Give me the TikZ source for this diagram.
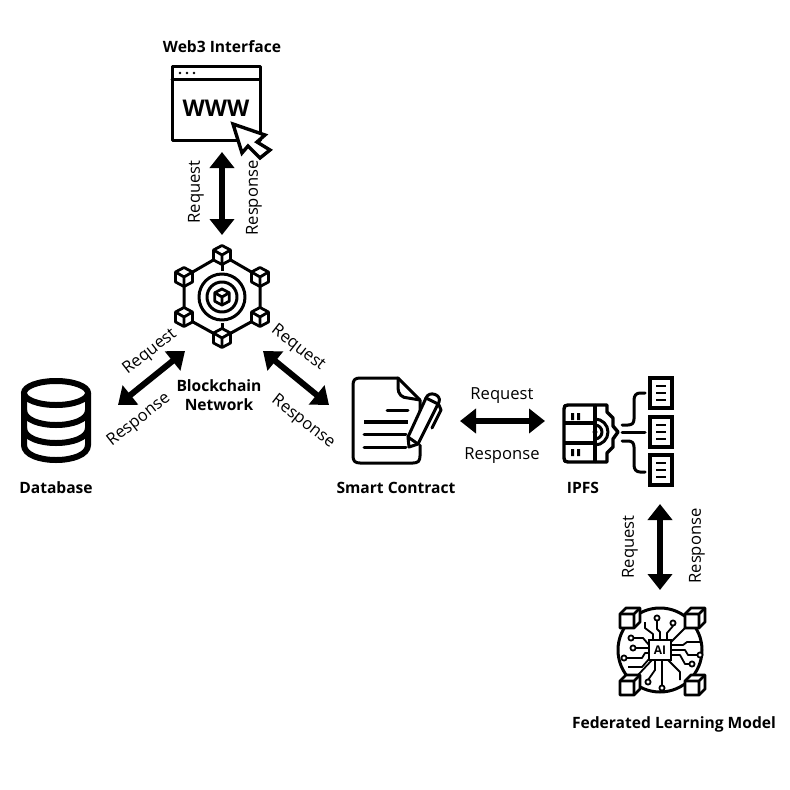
\documentclass[tikz,border=0pt]{standalone}
\usepackage{fontspec}
\setmainfont{Open Sans}
\usepackage{tikz}
\usetikzlibrary{arrows.meta}

\tikzset{
  title/.style={font=\fontsize{15.6}{18.5}\selectfont\bfseries, align=center},
  tag/.style={font=\fontsize{16.6}{18}\selectfont},
  biarrow/.style={line width=6pt, {Triangle[length=16pt,width=24pt]}-{Triangle[length=16pt,width=24pt]}},
  ink/.style={line width=3pt, line join=round, line cap=round},
  blockcube/.pic={
    \draw [line width=2.8pt, line join=round, fill=white] (0,-9.5) -- (8.5,-5) -- (8.5,5) -- (0,9.5) -- (-8.5,5) -- (-8.5,-5) -- cycle;
    \draw [line width=2.8pt, line join=round] (-8.5,-5) -- (0,0) -- (8.5,-5) (0,0) -- (0,9.5);
  },
  boxcube/.pic={
    \draw [line width=2.8pt, line join=round, fill=white] (-10,-4) -- (-4,-10) -- (10,-10) -- (10,4) -- (4,10) -- (-10,10) -- cycle;
    \draw [line width=2.8pt, line join=round] (-10,-4) -- (4,-4) -- (10,-10) (4,-4) -- (4,10);
  }
}

\begin{document}
\begin{tikzpicture}[x=1pt,y=-1pt]
    \useasboundingbox [fill=white] (0,0) rectangle (790,790);

    % Web3 window
    \node [title] (webtitle) at (222,47) {Web3 Interface};
    \draw [ink] (172,66) rectangle (260,140);
    \draw [ink] (172,79) -- (260,79);
    \foreach \dotx in {180,187,194}
        \fill (\dotx,73) circle [radius=1.4];
    \node [font=\fontsize{23}{23}\selectfont\bfseries] (www) at (216,108) {WWW};
    \draw [line width=3.4pt, line join=miter, fill=white] (233,124) -- (265,135) -- (257,142) -- (270,150) -- (260,158) -- (248,146) -- (242,153) -- cycle;

    % Blockchain
    \draw [ink] (222,255) -- (260,277) -- (260,317) -- (222,338) -- (184,317) -- (184,277) -- cycle;
    \draw [ink] (222,255) -- (222,338);
    \fill [white] (222,297) circle [radius=26];
    \draw [ink] (222,297) circle [radius=23];
    \draw [ink] (222,297) circle [radius=15];
    \pic [scale=0.85] at (222,297) {blockcube};
    \foreach \cubex/\cubey in {222/255, 260/277, 260/317, 222/338, 184/317, 184/277}
        \pic at (\cubex,\cubey) {blockcube};
    \node [title] (chainname) at (219,395) {Blockchain\\Network};

    % Database
    \draw [line width=6pt] (56,393) ellipse [x radius=32, y radius=12];
    \draw [line width=6pt, line cap=round] (24,393) -- (24,445) .. controls (24,465) and (88,465) .. (88,445) -- (88,393);
    \draw [line width=6pt] (24,410) .. controls (24,430) and (88,430) .. (88,410);
    \draw [line width=6pt] (24,428) .. controls (24,448) and (88,448) .. (88,428);
    \node [title] (dbname) at (56,488) {Database};

    % Smart contract
    \draw [ink] (398,378) -- (360,378) .. controls (355,378) and (353,380) .. (353,385) -- (353,456) .. controls (353,461) and (355,463) .. (360,463) -- (413,463) .. controls (418,463) and (420,461) .. (420,456) -- (420,445);
    \draw [ink] (398,378) -- (420,400) (420,400) -- (420,412);
    \draw [ink] (398,378) -- (398,388) .. controls (398,394) and (402,398) .. (408,398) -- (420,400);
    \draw [ink] (387,410) -- (408,410);
    \draw [line width=3.4pt] (364,422) -- (408,422);
    \draw [ink] (364,434) -- (406,434);
    \draw [ink] (364,447) -- (406,447);
    \draw [ink, fill=white] (409,447) -- (408,437) -- (426,398) .. controls (429,390) and (442,395) .. (439,402) -- (418,444) -- cycle;
    \draw [ink] (408,437) -- (418,444);
    \draw [ink] (426,398) -- (438,404);
    \draw [ink] (439,405) -- (441,410) -- (432,428);
    \node [title] (scname) at (396,488) {Smart Contract};

    % IPFS
    \draw [line width=3.4pt, line join=round] (595,405) -- (568,405) .. controls (565,405) and (564,406) .. (564,409) -- (564,458) .. controls (564,461) and (565,462) .. (568,462) -- (595,462);
    \draw [line width=3.4pt] (564,423) -- (595,423) (564,443) -- (595,443) (595,405) -- (595,462);
    \draw [line width=3.4pt, line join=round] (595,405) -- (607,405) -- (607,412) -- (613,418) -- (613,426) -- (618,432) -- (613,439) -- (613,447) -- (607,453) -- (607,462) -- (595,462);
    \draw [ink] (595,419) arc [start angle=-90, end angle=90, radius=13];
    \draw [ink] (595,425) arc [start angle=-90, end angle=90, radius=7];
    \fill (595,432) circle [radius=2.5];
    \fill (571,413) rectangle (574,420) (577,413) rectangle (580,420);
    \fill (571,449) rectangle (574,456) (577,449) rectangle (580,456);
    \foreach \docy in {378,417,455} {
        \draw [line width=3.4pt] (650,\docy) rectangle ++(22,30);
        \foreach \rowy in {8,15,22}
            \draw [line width=2.4pt] (656,\docy+\rowy) -- (666,\docy+\rowy);
    }
    \draw [ink] (622,425) -- (628,425) .. controls (632,425) and (634,423) .. (634,419) -- (634,400) .. controls (634,396) and (636,393) .. (640,393) -- (645,393);
    \draw [ink] (622,432) -- (645,432);
    \draw [ink] (622,441) -- (628,441) .. controls (632,441) and (634,443) .. (634,447) -- (634,465) .. controls (634,469) and (636,472) .. (640,472) -- (645,472);
    \node [title] (ipfsname) at (583,488) {IPFS};

    % AI model
    \draw [ink] (660,650) circle [radius=42];
    \begin{scope}[line width=1.8pt, line join=round]
        \draw (657,621) -- (657,629) -- (660,632) -- (660,640);
        \draw (673,626) -- (667,633) -- (667,640);
        \draw (653,640) -- (653,634) -- (645,628) -- (645,622);
        \draw (633,638) -- (643,638) -- (649,645);
        \draw (636,648) -- (649,648);
        \draw (627,658) -- (642,658) -- (645,653) -- (649,653);
        \draw (649,659) -- (642,667) -- (628,667);
        \draw (671,642) -- (685,628);
        \draw (671,645) -- (683,645) -- (687,642) -- (701,642);
        \draw (671,650) -- (685,650) -- (688,655) -- (698,655);
        \draw (671,655) -- (680,655) -- (685,664) -- (690,664);
        \draw (668,660) -- (680,672) -- (680,680);
        \draw (662,660) -- (662,685);
        \draw (655,660) -- (655,670) -- (648,680);
        \draw (652,660) -- (638,675);
        \foreach \padx/\pady in {657/618, 673/623, 631/638, 633/648, 624/658, 700/655, 692/664, 648/682, 662/688}
            \draw [fill=white] (\padx,\pady) circle [radius=2.6];
    \end{scope}
    \draw [line width=2.2pt, fill=white] (649,640) rectangle (671,660);
    \foreach \cubex/\cubey in {630/618, 695/618, 630/685, 695/685}
        \pic at (\cubex,\cubey) {boxcube};
    \node [font=\fontsize{12}{12}\selectfont\bfseries, inner sep=0pt] (ailabel) at (660,650) {AI};
    \node [title] (flname) at (674,724) {Federated Learning Model};

    % connector ends
    \coordinate (webend) at (222,152);
    \coordinate (chaintop) at (222,235);
    \coordinate (chainsw) at (185,351);
    \coordinate (dbend) at (118,405);
    \coordinate (chainse) at (263,351);
    \coordinate (scend) at (329,405);
    \coordinate (scright) at (460,421);
    \coordinate (ipfsleft) at (545,421);
    \coordinate (ipfsbot) at (660,504);
    \coordinate (fltop) at (660,590);

    \draw [biarrow] (webend) -- (chaintop);
    \draw [biarrow] (chainsw) -- (dbend);
    \draw [biarrow] (chainse) -- (scend);
    \draw [biarrow] (scright) -- (ipfsleft);
    \draw [biarrow] (ipfsbot) -- (fltop);

    \node [tag, rotate=90] (req1) at (196,192) {Request};
    \node [tag, rotate=90] (res1) at (254,198) {Response};
    \node [tag, rotate=38] (req2) at (150,352) {Request};
    \node [tag, rotate=38] (res2) at (139,420) {Response};
    \node [tag, rotate=-38] (req3) at (298,348) {Request};
    \node [tag, rotate=-38] (res3) at (303,422) {Response};
    \node [tag] (req4) at (502,396) {Request};
    \node [tag] (res4) at (502,456) {Response};
    \node [tag, rotate=90] (req5) at (630,547) {Request};
    \node [tag, rotate=90] (res5) at (697,546) {Response};
\end{tikzpicture}
\end{document}
